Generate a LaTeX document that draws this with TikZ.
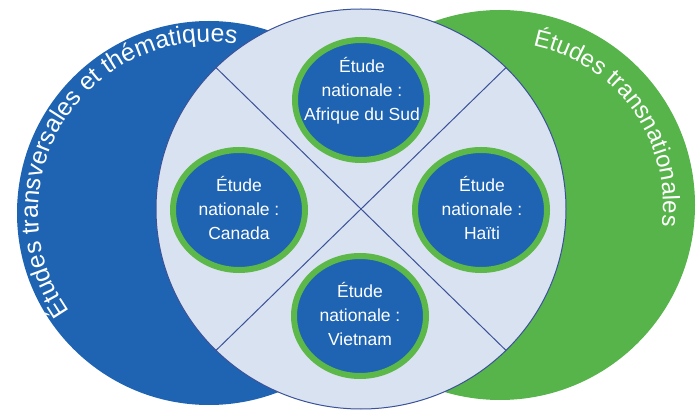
\documentclass[tikz,border=0pt]{standalone}
\usepackage{fontspec}
\setmainfont{Liberation Sans}
\usetikzlibrary{decorations.text,shapes.geometric}
\definecolor{bigblue}{RGB}{30,100,178}
\definecolor{biggreen}{RGB}{86,180,74}
\definecolor{lightfill}{RGB}{217,226,241}
\definecolor{edgeblue}{RGB}{60,82,152}
\definecolor{ringgreen}{RGB}{92,184,72}
\newcommand\smallfnt{\fontsize{17.5}{24}\selectfont}
\newcommand\bigfnt{\fontsize{24}{28}\selectfont}
\newcommand\bigfntL{\fontsize{24.8}{28}\selectfont}
\begin{document}
\begin{tikzpicture}[x=1pt,y=1pt,
  country/.style={ellipse, fill=bigblue, draw=ringgreen, line width=6pt,
    minimum width=132pt, minimum height=120pt, inner sep=0pt},
  ctext/.style={align=center, text=white, font=\smallfnt, inner sep=0pt},
  divider/.style={draw=edgeblue, line width=1pt}]
\useasboundingbox (0,0) rectangle (699,410);
% big circles
\fill[bigblue] (209,197) circle[radius=192];
\fill[biggreen] (500,205) circle[radius=195];
% middle disc
\filldraw[fill=lightfill, draw=edgeblue, line width=1pt] (361,201) ellipse[x radius=205, y radius=200];
\coordinate (tl) at (216,342.4);
\coordinate (tr) at (506,342.4);
\coordinate (bl) at (216,59.6);
\coordinate (br) at (506,59.6);
\draw[divider] (tl) -- (br);
\draw[divider] (tr) -- (bl);
% country circles
\node[country] (za) at (361,310) {};
\node[country] (ca) at (239,200) {};
\node[country] (ht) at (481,200) {};
\node[country] (vn) at (360,94) {};
\node[ctext] (zat) at (362,319) {Étude\\nationale :\\Afrique du Sud};
\node[ctext] (cat) at (239,202) {Étude\\nationale :\\Canada};
\node[ctext] (htt) at (482,202) {Étude\\nationale :\\Haïti};
\node[ctext] (vnt) at (360,96) {Étude\\nationale :\\Vietnam};
% curved titles
\path[decorate, decoration={text along path, text align=center, text color=white,
  text={|\bigfntL|Études transversales et thématiques}}]
  (209,197) ++(220:171) arc[start angle=220, end angle=76, radius=171];
\path[decorate, decoration={text along path, text align=center, text color=white,
  text={|\bigfnt|Études transnationales}}]
  (500,205) ++(82:163) arc[start angle=82, end angle=-11, radius=163];
\end{tikzpicture}
\end{document}
